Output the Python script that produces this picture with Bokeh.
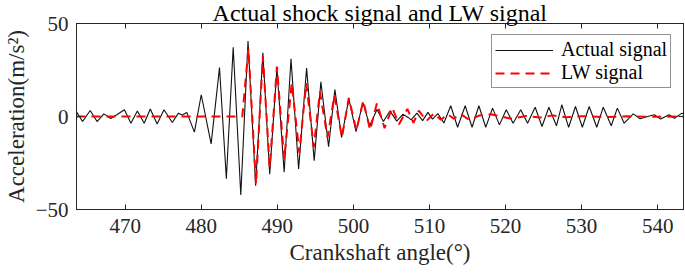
from bokeh.plotting import figure
from bokeh.models import Range1d, FixedTicker, LinearAxis, Legend, LegendItem
from bokeh.embed import file_html
from bokeh.resources import INLINE

# ---- data (local extrema) ----
actual_angle = [463.6, 464.4, 465.4, 466.3, 467.2, 468.1, 468.9, 469.9, 470.75, 471.6,
                472.5, 473.3, 474.2, 475.1, 476.2, 477.0, 477.5, 478.1, 479.1, 480.0,
                481.3, 482.4, 483.3, 484.2, 485.2, 486.15, 487.15, 488.1, 489.0, 489.95,
                490.9, 491.8, 492.8, 493.85, 494.85, 495.73, 496.74, 497.57, 498.45, 499.4,
                500.35, 501.25, 502.15, 503.1, 503.95, 504.8, 505.7, 506.5, 507.2, 507.6,
                508.35, 509.1, 509.8, 510.4, 511.1, 511.9, 512.8, 513.7, 514.7, 515.6,
                516.5, 517.4, 518.3, 519.2, 520.1, 521.0, 522.0, 522.9, 523.9, 524.8,
                525.7, 526.7, 527.4, 528.3, 529.2, 530.1, 531.0, 532.0, 532.85, 533.9,
                534.7, 535.6, 536.8, 537.7, 538.7, 539.55, 540.4, 541.5, 542.2, 543.2, 543.4]
actual_accel = [2.5, -2.7, 3.2, -2.7, 1.4, -1.1, 0.9, 3.6, -3.6, 3.0,
                -3.6, 4.0, -4.0, 3.6, -3.2, 1.8, 0.8, 2.2, -8.4, 11.7,
                -14.7, 26.3, -33.5, 37.2, -42.2, 40.6, -37.2, 34.2, -31.0, 26.0,
                -30.0, 31.0, -28.2, 26.0, -23.7, 18.7, -16.2, 14.5, -11.2, 9.5,
                -8.1, 7.6, -5.0, 3.8, -2.7, 3.0, -2.5, 1.2, -0.5, -1.8,
                1.8, -2.2, 2.2, -1.4, 1.6, -3.5, 5.8, -5.8, 5.8, -5.8,
                5.8, -5.8, 4.5, -4.5, 3.6, -3.6, 3.6, -3.6, 5.0, -5.4,
                5.0, -5.0, 6.3, -5.8, 5.4, -5.8, 5.4, -5.8, 5.0, -5.0,
                4.5, -3.6, 1.4, -1.2, 0.0, 0.9, -1.4, 0.9, -0.9, 1.8, 1.5]

lw_angle = [463.6, 485.4, 486.2, 487.2, 488.1, 489.0, 489.95, 490.9, 491.9, 492.9,
            493.8, 494.8, 495.6, 496.6, 497.5, 498.5, 499.4, 500.4, 501.3, 502.2,
            503.1, 504.1, 505.1, 506.0, 507.1, 507.9, 508.6, 509.6, 510.6, 511.5,
            512.4, 513.2, 514.1, 515.2, 516.6, 518.1, 520.7, 522.7, 524.5, 526.2,
            528.0, 530.0, 533.0, 536.0, 539.0, 543.4]
lw_accel = [0.0, 0.0, 36.5, -36.3, 32.5, -27.5, 26.8, -23.0, 18.0, -19.5,
            18.0, -16.5, 13.3, -11.3, 11.2, -11.2, 10.0, -7.5, 8.5, -7.3,
            7.2, -6.3, 4.8, -4.2, 4.1, -3.4, 3.2, -2.4, 1.6, -1.8,
            1.2, -1.2, 1.4, -1.8, 0.6, 1.2, -1.2, 0.3, -0.6, 0.6,
            -0.4, 0.2, -0.3, 0.1, -0.2, 0.0]

x_ticks = [470, 480, 490, 500, 510, 520, 530, 540]
y_ticks = [-50, 0, 50]

FONT = "Liberation Serif"
AX = "#262626"

p = figure(width=685, height=275, output_backend="svg", toolbar_location=None,
           x_range=Range1d(463.6, 543.4), y_range=Range1d(-50, 50),
           min_border_left=75, min_border_right=2, min_border_top=0, min_border_bottom=66)
p.grid.visible = False
p.outline_line_color = AX
p.outline_line_width = 1
p.background_fill_color = "white"
p.border_fill_color = "white"

p.title.text = "Actual shock signal and LW signal"
p.title.align = "center"
p.title.text_font = FONT
p.title.text_font_size = "24px"
p.title.text_font_style = "normal"
p.title.text_color = "#000000"
p.title.standoff = -5

r1 = p.line(actual_angle, actual_accel, line_color="#111111", line_width=1.1)
r2 = p.line(lw_angle, lw_accel, line_color="#ff0000", line_width=2, line_dash="9 6")

def style_axis(ax, show_labels=True):
    ax.axis_line_color = AX
    ax.major_tick_line_color = AX
    ax.major_tick_in = 5
    ax.major_tick_out = 0
    ax.minor_tick_line_color = None
    ax.major_label_text_font = FONT
    ax.major_label_text_color = AX
    ax.major_label_text_font_size = "21px"
    ax.axis_label_text_font = FONT
    ax.axis_label_text_font_style = "normal"
    ax.axis_label_text_color = AX
    ax.axis_label_text_font_size = "23px"
    if not show_labels:
        ax.major_label_overrides = {t: "" for t in ax.ticker.ticks}
        ax.major_label_standoff = 0
        ax.major_label_text_font_size = "1px"

xa = p.xaxis[0]
ya = p.yaxis[0]
xa.ticker = FixedTicker(ticks=x_ticks)
ya.ticker = FixedTicker(ticks=y_ticks)
style_axis(xa)
style_axis(ya)
xa.major_label_standoff = 9
ya.major_label_standoff = 8
xa.axis_label = "Crankshaft angle(°)"
ya.axis_label = "Acceleration(m/s²)"
xa.axis_label_standoff = 4
ya.axis_label_standoff = 4

top = LinearAxis(ticker=FixedTicker(ticks=x_ticks))
right = LinearAxis(ticker=FixedTicker(ticks=y_ticks))
style_axis(top, False)
style_axis(right, False)
p.add_layout(top, "above")
p.add_layout(right, "right")

legend = Legend(items=[LegendItem(label="Actual signal", renderers=[r1]),
                       LegendItem(label="LW signal", renderers=[r2])],
                location=(415, 121))
legend.label_text_font = FONT
legend.label_text_font_size = "20px"
legend.label_text_color = "#000000"
legend.glyph_width = 58
legend.glyph_height = 20
legend.label_height = 20
legend.label_standoff = 8
legend.padding = 3
legend.spacing = 0
legend.margin = 0
legend.border_line_color = AX
legend.border_line_width = 1
legend.background_fill_color = "white"
legend.background_fill_alpha = 1
p.add_layout(legend, "center")

open("out.html", "w").write(file_html(p, INLINE))
